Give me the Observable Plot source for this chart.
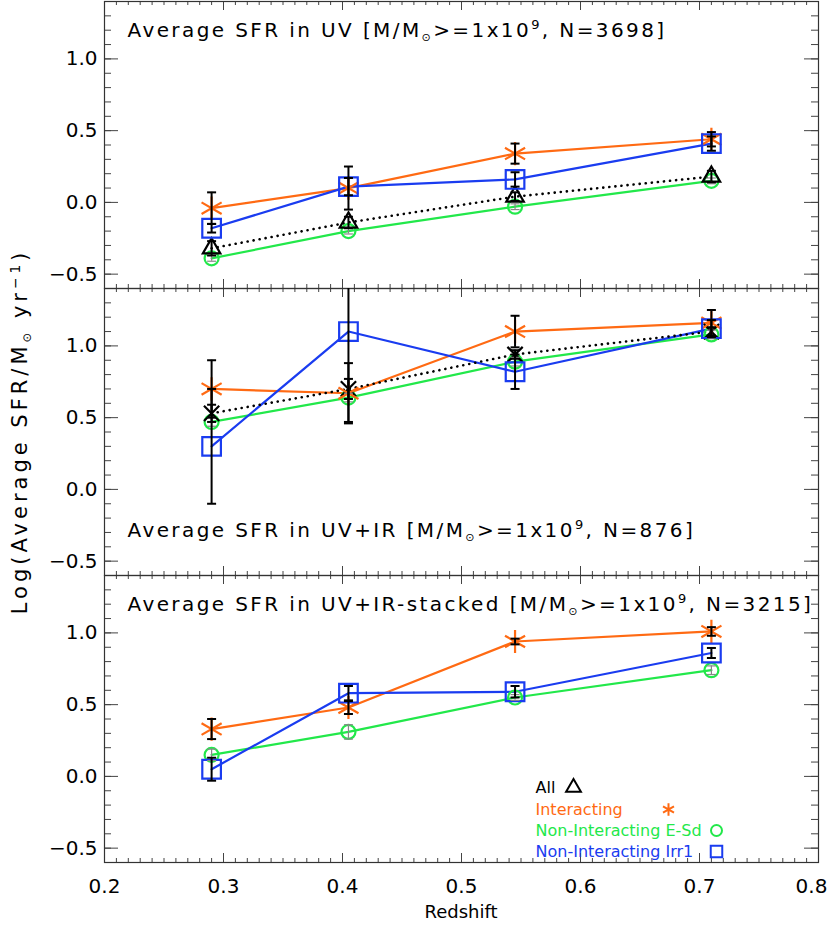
<!DOCTYPE html>
<html><head><meta charset="utf-8">
<script src="https://cdn.jsdelivr.net/npm/d3@7"></script>
<script src="https://cdn.jsdelivr.net/npm/@observablehq/plot@0.6"></script>
<style>
body{margin:0;background:#fff}
#chart{width:830px;height:925px}
</style>
</head><body><div id="chart"></div>
<script>
// ---------- data ----------
const redshift = [0.29, 0.405, 0.545, 0.71];
const panels = ["UV", "UV+IR", "UV+IR-stacked"];
const panelN = [3698, 876, 3215];
const groups = ["All", "Interacting", "Non-Interacting E-Sd", "Non-Interacting Irr1"];
const groupColors = ["#000000", "#ff6a13", "#22e84a", "#1a3cf0"];
const groupSymbols = ["triangle", "asterisk", "circle", "square"];

// Panel 1: UV
const uvAll = [-0.32, -0.14, 0.04, 0.18];
const uvAllErr = [0.05, 0.04, 0.03, 0.04];
const uvInt = [-0.04, 0.10, 0.34, 0.44];
const uvIntErr = [0.11, 0.15, 0.07, 0.05];
const uvES = [-0.39, -0.20, -0.03, 0.15];
const uvESErr = [0.02, 0.02, 0.02, 0.02];
const uvIrr = [-0.18, 0.11, 0.16, 0.41];
const uvIrrErr = [0.03, 0.06, 0.05, 0.05];

// Panel 2: UV+IR
const irAll = [0.53, 0.70, 0.94, 1.10];
const irAllErr = [0.06, 0.07, 0.03, 0.03];
const irInt = [0.70, 0.67, 1.10, 1.16];
const irIntErr = [0.20, 0.21, 0.11, 0.09];
const irES = [0.47, 0.64, 0.89, 1.08];
const irESErr = [0.03, 0.03, 0.03, 0.03];
const irIrr = [0.30, 1.10, 0.82, 1.12];
const irIrrErr = [0.40, 0.63, 0.12, 0.06];

// Panel 3: UV+IR-stacked
const stInt = [0.33, 0.48, 0.94, 1.01];
const stIntErr = [0.07, 0.045, 0.02, 0.03];
const stES = [0.15, 0.31, 0.55, 0.74];
const stESErr = [0.04, 0.05, 0.02, 0.03];
const stIrr = [0.05, 0.58, 0.59, 0.86];
const stIrrErr = [0.08, 0.05, 0.04, 0.035];

// axis ticks
const xLabels = [0.2, 0.3, 0.4, 0.5, 0.6, 0.7, 0.8];
const yLabels = [-0.5, 0.0, 0.5, 1.0];
const xMinor = d3.range(0.2, 0.8001, 0.01);
const yMinor = d3.range(-0.6, 1.4001, 0.1);
const yMajor = [-0.5, 0.0, 0.5, 1.0];

// ---------- build table ----------
const rows = [];
function add(panel, group, vals, errs) {
  vals.forEach((v, i) => rows.push({panel, group, z: redshift[i], v, lo: v - errs[i], hi: v + errs[i]}));
}
add("UV", "All", uvAll, uvAllErr);
add("UV", "Interacting", uvInt, uvIntErr);
add("UV", "Non-Interacting E-Sd", uvES, uvESErr);
add("UV", "Non-Interacting Irr1", uvIrr, uvIrrErr);
add("UV+IR", "All", irAll, irAllErr);
add("UV+IR", "Interacting", irInt, irIntErr);
add("UV+IR", "Non-Interacting E-Sd", irES, irESErr);
add("UV+IR", "Non-Interacting Irr1", irIrr, irIrrErr);
add("UV+IR-stacked", "Interacting", stInt, stIntErr);
add("UV+IR-stacked", "Non-Interacting E-Sd", stES, stESErr);
add("UV+IR-stacked", "Non-Interacting Irr1", stIrr, stIrrErr);

const titles = panels.map((p, i) => ({panel: p, text: `Average SFR in ${p} [M/M⊙>=1x10⁹, N=${panelN[i]}]`}));

// ---------- layout constants ----------
const W = 830, H = 925, ML = 104, MR = 12, MT = 1, MB = 63;
const FH = (H - MT - MB) / 3;
const PW = W - ML - MR;
const FONT = "'DejaVu Sans', 'Liberation Sans', sans-serif";
const tickColor = "#444";

const cap = {draw(ctx) { ctx.moveTo(-4.5, 0); ctx.lineTo(4.5, 0); }};
const colorOf = g => groupColors[groups.indexOf(g)];

const marks = [];
// inner ticks
marks.push(
  Plot.tickX(xMinor, {x: d => d, insetTop: FH - 4, stroke: tickColor}),
  Plot.tickX(xMinor, {x: d => d, insetBottom: FH - 4, stroke: tickColor}),
  Plot.tickX(xLabels, {x: d => d, insetTop: FH - 9, stroke: tickColor}),
  Plot.tickX(xLabels, {x: d => d, insetBottom: FH - 9, stroke: tickColor}),
  Plot.tickY(yMinor, {y: d => d, insetRight: PW - 7, stroke: tickColor}),
  Plot.tickY(yMinor, {y: d => d, insetLeft: PW - 7, stroke: tickColor}),
  Plot.tickY(yMajor, {y: d => d, insetRight: PW - 14, stroke: tickColor}),
  Plot.tickY(yMajor, {y: d => d, insetLeft: PW - 14, stroke: tickColor}),
  Plot.frame({stroke: "#333", strokeWidth: 1.2})
);

// lines
const others = rows.filter(d => d.group !== "All");
const alls = rows.filter(d => d.group === "All");
marks.push(
  Plot.line(others, {x: "z", y: "v", z: "group", fy: "panel", stroke: d => colorOf(d.group), strokeWidth: 2.2}),
  Plot.line(alls, {x: "z", y: "v", fy: "panel", stroke: "#000", strokeWidth: 2.6, strokeDasharray: "0.1,6", strokeLinecap: "round"})
);

// markers
marks.push(
  Plot.dot(rows.filter(d => d.group === "Non-Interacting E-Sd"), {x: "z", y: "v", fy: "panel", symbol: "circle", r: 7, stroke: colorOf("Non-Interacting E-Sd"), strokeWidth: 2.2}),
  Plot.dot(rows.filter(d => d.group === "All" && d.panel === "UV"), {x: "z", y: "v", fy: "panel", symbol: "triangle", r: 6.5, stroke: "#000", strokeWidth: 2.2}),
  Plot.dot(rows.filter(d => d.group === "All" && d.panel === "UV+IR"), {x: "z", y: "v", fy: "panel", symbol: "times", r: 7, stroke: "#000", strokeWidth: 2.2}),
  Plot.dot(rows.filter(d => d.group === "Interacting"), {x: "z", y: "v", fy: "panel", symbol: "asterisk", r: 11, stroke: colorOf("Interacting"), strokeWidth: 2.2}),
  Plot.dot(rows.filter(d => d.group === "Non-Interacting Irr1"), {x: "z", y: "v", fy: "panel", symbol: "square", r: 10.5, stroke: colorOf("Non-Interacting Irr1"), strokeWidth: 2.2})
);

// error bars
const errBlack = rows.filter(d => d.group !== "Non-Interacting E-Sd");
const errGrey = rows.filter(d => d.group === "Non-Interacting E-Sd");
marks.push(
  Plot.ruleX(errGrey, {x: "z", y1: "lo", y2: "hi", fy: "panel", stroke: "#888", strokeWidth: 1.2, clip: true}),
  Plot.dot(errGrey, {x: "z", y: "lo", fy: "panel", symbol: cap, stroke: "#888", strokeWidth: 1.2, clip: true}),
  Plot.dot(errGrey, {x: "z", y: "hi", fy: "panel", symbol: cap, stroke: "#888", strokeWidth: 1.2, clip: true}),
  Plot.ruleX(errBlack, {x: "z", y1: "lo", y2: "hi", fy: "panel", stroke: "#000", strokeWidth: 2, clip: true}),
  Plot.dot(errBlack, {x: "z", y: "lo", fy: "panel", symbol: cap, stroke: "#000", strokeWidth: 2, clip: true}),
  Plot.dot(errBlack, {x: "z", y: "hi", fy: "panel", symbol: cap, stroke: "#000", strokeWidth: 2, clip: true})
);

// panel titles
marks.push(
  Plot.text(titles.filter(d => d.panel !== "UV+IR"), {fy: "panel", text: "text", frameAnchor: "top-left", dx: 23, dy: 29, textAnchor: "start", lineAnchor: "middle", fontSize: 20, className: "ptitle"}),
  Plot.text(titles.filter(d => d.panel === "UV+IR"), {fy: "panel", text: "text", frameAnchor: "bottom-left", dx: 23, dy: -45, textAnchor: "start", lineAnchor: "middle", fontSize: 20, className: "ptitle"})
);

// legend in bottom panel
const legendDy = [-75, -53, -32, -11];
const legendMarkDx = [469, 564, 612, 612];
const legendR = [5.5, 6, 5.5, 6.5];
groups.forEach((g, i) => {
  marks.push(
    Plot.text([{panel: "UV+IR-stacked", label: g}], {fy: "panel", text: "label", frameAnchor: "bottom-left", dx: 431, dy: legendDy[i], textAnchor: "start", lineAnchor: "middle", fontSize: 16, fill: groupColors[i], className: "legtext"}),
    Plot.dot([{panel: "UV+IR-stacked"}], {fy: "panel", frameAnchor: "bottom-left", dx: legendMarkDx[i], dy: legendDy[i], symbol: groupSymbols[i], r: legendR[i], stroke: groupColors[i], strokeWidth: 2})
  );
});

// axes (labels only)
marks.push(
  Plot.axisY({ticks: yLabels, tickSize: 0, tickPadding: 7, tickFormat: d3.format(".1f"), label: null, fontSize: 20}),
  Plot.axisX({ticks: xLabels.slice(0, -1), tickSize: 0, tickPadding: 16, tickFormat: d3.format(".1f"), label: null, fontSize: 20}),
  Plot.axisX({ticks: xLabels.slice(-1), tickSize: 0, tickPadding: 16, dx: -7, tickFormat: d3.format(".1f"), label: null, fontSize: 20})
);

const svg = Plot.plot({
  width: W, height: H,
  marginTop: MT, marginBottom: MB, marginLeft: ML, marginRight: MR,
  style: {fontFamily: FONT, color: "#000", background: "#fff", overflow: "visible"},
  x: {domain: [0.2, 0.8]},
  y: {domain: [-0.6, 1.4]},
  fy: {domain: panels, padding: 0, axis: null},
  marks
});
document.getElementById("chart").appendChild(svg);

// ---------- rich text (subscripts / superscripts) ----------
function richify(el) {
  const s = el.textContent;
  const parts = s.split(/(⊙|⁹|⁻¹)/);
  el.textContent = "";
  let shift = 0;
  for (const p of parts) {
    if (!p) continue;
    let target = 0, fs = null, txt = p;
    if (p === "⊙") { target = 4; fs = "0.55em"; }
    else if (p === "⁹") { target = -8; fs = "0.65em"; txt = "9"; }
    else if (p === "⁻¹") { target = -7; fs = "0.65em"; txt = "−1"; }
    const t = d3.select(el).append("tspan").text(txt).attr("dy", target - shift);
    if (fs) t.attr("font-size", fs);
    shift = target;
  }
}
d3.select(svg).selectAll(".ptitle text").each(function() { richify(this); }).style("letter-spacing", "2.4px");
d3.select(svg).selectAll(".legtext text").style("letter-spacing", "0px");

// axis titles
const s = d3.select(svg);
s.append("text").attr("x", ML + PW / 2).attr("y", 918).attr("text-anchor", "middle")
  .attr("font-size", 18).attr("font-family", FONT).text("Redshift");
const yl = s.append("text").attr("transform", `translate(27,${MT + 1.5 * FH}) rotate(-90)`)
  .attr("text-anchor", "middle").attr("font-size", 21).attr("font-family", FONT)
  .style("letter-spacing", "4px")
  .text("Log(Average SFR/M⊙ yr⁻¹)");
richify(yl.node());
</script>
</body></html>
